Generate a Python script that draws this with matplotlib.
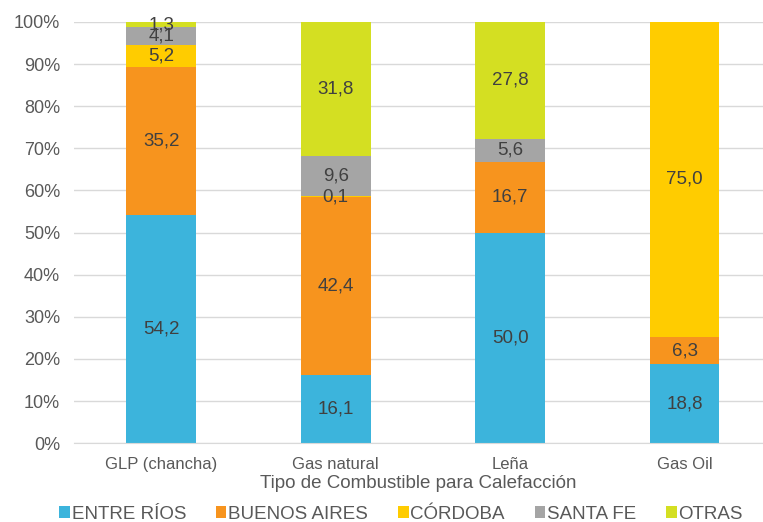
import numpy as np
import matplotlib.pyplot as plt
from matplotlib.ticker import PercentFormatter

plt.rcParams['font.family'] = ['Liberation Sans', 'DejaVu Sans']

categories = ['GLP (chancha)', 'Gas natural', 'Leña', 'Gas Oil']
series = ['ENTRE RÍOS', 'BUENOS AIRES', 'CÓRDOBA', 'SANTA FE', 'OTRAS']
entre_rios = [54.2, 16.1, 50.0, 18.8]
buenos_aires = [35.2, 42.4, 16.7, 6.3]
cordoba = [5.2, 0.1, 0.0, 75.0]
santa_fe = [4.1, 9.6, 5.6, 0.0]
otras = [1.3, 31.8, 27.8, 0.0]
colors = ['#3CB4DC', '#F7941E', '#FFCC00', '#A5A5A5', '#D4DF22']

values = [entre_rios, buenos_aires, cordoba, santa_fe, otras]

fig = plt.figure(figsize=(7.63, 5.22), dpi=100)
ax = fig.add_axes([0.097, 0.151, 0.903, 0.807])

x = np.arange(len(categories))
bottom = np.zeros(len(categories))
for name, vals, col in zip(series, values, colors):
    vals = np.array(vals)
    ax.bar(x, vals, 0.4, bottom=bottom, color=col, label=name, zorder=2)
    for xi, b, v in zip(x, bottom, vals):
        if v > 0:
            ax.text(xi, b + v / 2, f'{v:.1f}'.replace('.', ','), ha='center', va='center',
                    fontsize=13.5, color='#404040', zorder=3)
    bottom += vals

ax.set_ylim(0, 100)
ax.set_xlim(-0.5, 3.45)
ax.set_yticks(np.arange(0, 101, 10))
ax.yaxis.set_major_formatter(PercentFormatter(decimals=0))
ax.set_xticks(x)
ax.set_xticklabels(categories)
ax.grid(axis='y', color='#D9D9D9', linewidth=1, zorder=0)
for s in ['top', 'right', 'left']:
    ax.spines[s].set_visible(False)
ax.spines['bottom'].set_color('#D9D9D9')
ax.tick_params(axis='both', length=0, labelsize=12, colors='#595959')
ax.tick_params(axis='y', labelsize=13, pad=10)
ax.tick_params(axis='x', pad=10)
ax.set_xlabel('Tipo de Combustible para Calefacción', fontsize=13.5, color='#595959', labelpad=2)

ax.legend(loc='upper center', bbox_to_anchor=(0.475, -0.108), ncol=5, frameon=False,
          fontsize=13.5, handlelength=0.55, handleheight=0.55, handletextpad=0.1,
          columnspacing=1.6, labelcolor='#595959')

fig.savefig('out.png', dpi=100)
